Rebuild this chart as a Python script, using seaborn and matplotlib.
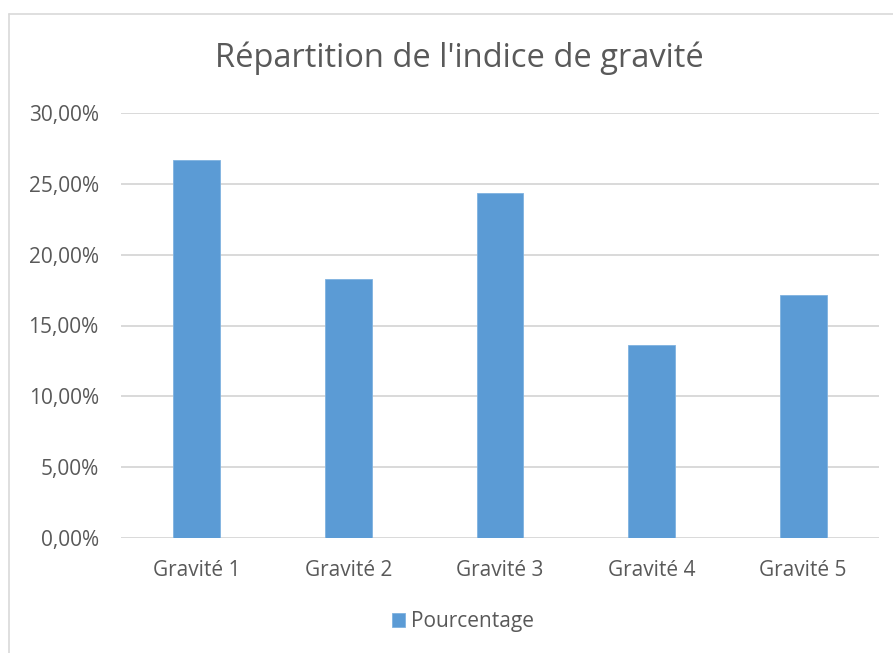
import matplotlib
matplotlib.use("Agg")
import matplotlib.pyplot as plt
from matplotlib.lines import Line2D
from matplotlib.ticker import FuncFormatter, MultipleLocator
import pandas as pd
import seaborn as sns

# Données
categories = ["Gravité 1", "Gravité 2", "Gravité 3", "Gravité 4", "Gravité 5"]
pourcentages = [26.65, 18.26, 24.35, 13.62, 17.12]
serie = "Pourcentage"
titre = "Répartition de l'indice de gravité"

df = pd.DataFrame({"Gravité": categories, "Valeur": pourcentages, "Série": serie})

sns.set_theme(style="white")
plt.rcParams["font.family"] = ["Open Sans", "DejaVu Sans"]

TEXT = "#595959"
GRID = "#D9D9D9"
BAR = "#5B9BD5"

W, H = 893, 653
fig = plt.figure(figsize=(W / 100, H / 100), dpi=100)
fig.patch.set_facecolor("white")

left, right, top, bottom = 121, 879, 113, 538
ax = fig.add_axes([left / W, 1 - bottom / H, (right - left) / W, (bottom - top) / H])

sns.barplot(data=df, x="Gravité", y="Valeur", hue="Série", palette=[BAR],
            width=0.31, saturation=1, edgecolor="#7FB2E0", linewidth=0.6,
            ax=ax, zorder=3)

ax.set_ylim(0, 30)
ax.set_xlim(-0.5, len(categories) - 0.5)
ax.yaxis.set_major_locator(MultipleLocator(5))
ax.yaxis.set_major_formatter(FuncFormatter(lambda v, _: f"{v:.2f}%".replace(".", ",")))
ax.grid(axis="y", color=GRID, linewidth=1.4, zorder=0)
ax.set_axisbelow(True)
for s in ax.spines.values():
    s.set_visible(False)
ax.set_xlabel("")
ax.set_ylabel("")
ax.tick_params(axis="y", length=0, pad=16, labelsize=15, labelcolor=TEXT)
ax.tick_params(axis="x", length=0, pad=16, labelsize=15, labelcolor=TEXT)

leg = ax.legend(loc="center", bbox_to_anchor=(463 / W, 1 - 622 / H),
                bbox_transform=fig.transFigure, frameon=False,
                fontsize=15, handlelength=0.62, handleheight=0.62,
                handletextpad=0.3, labelcolor=TEXT)

fig.text(459 / W, 1 - 58 / H, titre, ha="center", va="center",
         fontsize=23.5, color=TEXT, fontweight="normal")

# Cadre du graphique
fig.add_artist(Line2D([9 / W, 1], [1 - 14 / H, 1 - 14 / H], color=GRID,
                      linewidth=1.2, transform=fig.transFigure))
fig.add_artist(Line2D([9 / W, 9 / W], [0, 1 - 14 / H], color=GRID,
                      linewidth=1.2, transform=fig.transFigure))

fig.savefig("out.png", dpi=100, facecolor="white")
